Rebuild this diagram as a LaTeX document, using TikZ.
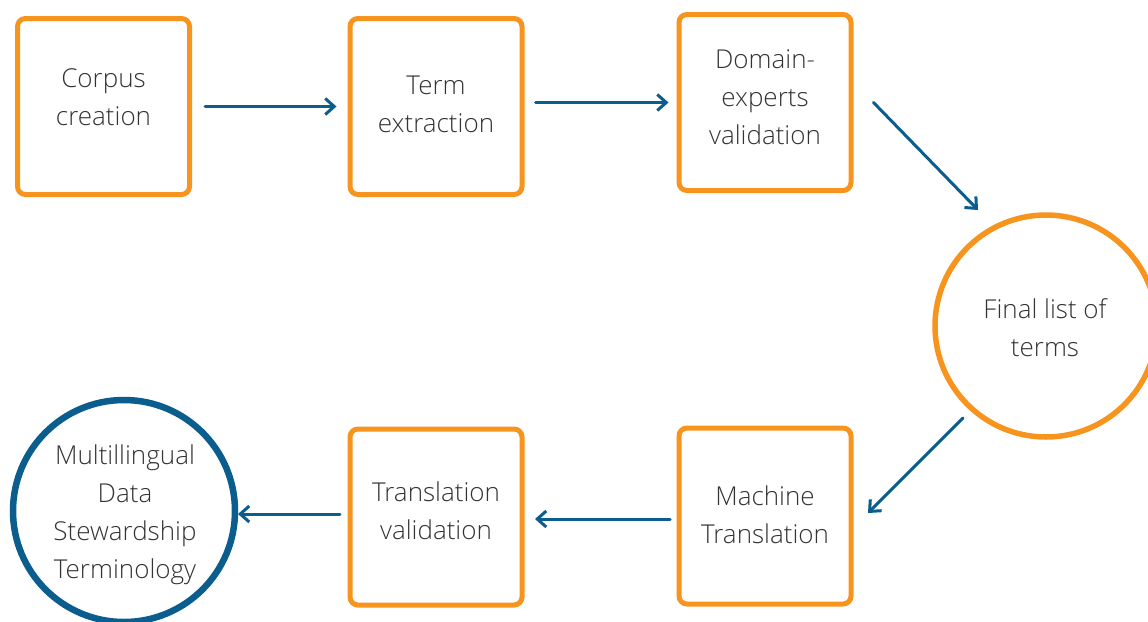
\documentclass[tikz,border=0pt]{standalone}
\usepackage{fontspec}
\IfFontExistsTF{Open Sans Light}{\setmainfont{Open Sans Light}}{\setmainfont{Open Sans}}
\usetikzlibrary{arrows.meta,calc}
\definecolor{boxorange}{HTML}{F7941D}
\definecolor{arrowblue}{HTML}{0B5D8E}
\definecolor{txtgray}{HTML}{333333}
\tikzset{
  stepbox/.style={draw=boxorange, line width=5pt, rounded corners=8pt, minimum width=172pt, minimum height=176pt, outer sep=0pt, inner sep=0pt},
  orangecirc/.style={draw=boxorange, line width=5.5pt, circle, minimum size=222pt, outer sep=0pt, inner sep=0pt},
  bluecirc/.style={draw=arrowblue, line width=6.5pt, circle, minimum size=222pt, outer sep=0pt, inner sep=0pt},
  lbl/.style={text=txtgray, align=center, font=\fontsize{26}{38}\selectfont, inner sep=0pt, outer sep=0pt},
  arr/.style={draw=arrowblue, line width=3pt, -{Straight Barb[length=9pt,width=16pt,line width=3pt]}, line cap=round}
}
\begin{document}
\begin{tikzpicture}[x=1pt,y=-1pt]
\useasboundingbox (0,0) rectangle (1148,621);
% shapes
\node[stepbox] (corpus) at (103.5,106.5) {};
\node[stepbox] (term) at (436,106.5) {};
\node[stepbox] (domain) at (765,102.5) {};
\node[orangecirc] (final) at (1046,326) {};
\node[stepbox] (machine) at (765,516) {};
\node[stepbox] (transval) at (436,517) {};
\node[bluecirc] (multi) at (124,511) {};
% texts
\node[lbl] (corpus-t) at (103.5,97.5) {Corpus\\creation};
\node[lbl] (term-t) at (436,104.5) {Term\\extraction};
\node[lbl] (domain-t) at (765,97.5) {Domain-\\experts\\validation};
\node[lbl] (final-t) at (1045,328) {Final list of\\terms};
\node[lbl] (machine-t) at (765,515) {Machine\\Translation};
\node[lbl] (transval-t) at (436,511) {Translation\\validation};
\node[lbl] (multi-t) at (125,514.5) {Multillingual\\Data\\Stewardship\\Terminology};
% connectors
\draw[arr] ($(corpus.east)+(15.5,0)$) -- ($(term.west)+(-13.5,0)$);
\draw[arr] ($(term.east |- domain.west)+(13.5,0)$) -- ($(domain.west)+(-10.5,0)$);
\draw[arr] ($(domain.east)+(22.5,0)$) -- ($(final.center)+(-68,-116)$);
\draw[arr] ($(final.center)+(-83,92)$) -- ($(machine.east)+(17,-3)$);
\draw[arr] ($(machine.west)+(-9,3)$) -- ($(transval.east |- machine.west)+(13,3)$);
\draw[arr] ($(transval.west)+(-10,-3)$) -- ($(multi.east)+(3,3)$);
\end{tikzpicture}
\end{document}
